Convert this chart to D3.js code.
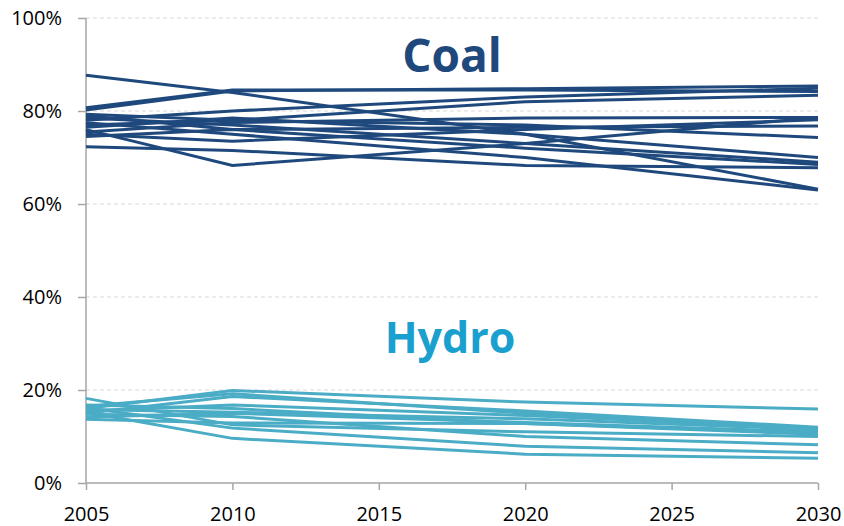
<!DOCTYPE html>
<html>
<head>
<meta charset="utf-8">
<script src="https://cdn.jsdelivr.net/npm/d3@7"></script>
<style>
  body { margin: 0; background: #fff; }
  svg { display: block; font-family: "Open Sans", sans-serif; }
  .grid line { stroke: #d9d9d9; stroke-dasharray: 4 3; }
  .axis path, .axis line { stroke: #a6a6a6; stroke-width: 1.5; }
  .axis text { fill: #000; font-size: 20px; font-family: "Open Sans", sans-serif; }
</style>
</head>
<body>
<div id="chart"></div>
<script>
(function(){

// years where each line has a point
const years = [2005, 2010, 2020, 2030];
const xTicks = [2005, 2010, 2015, 2020, 2025, 2030];
const yTicks = [0, 0.2, 0.4, 0.6, 0.8, 1.0];

// share of coal, one array per line
const coal = [
  [0.877, 0.840, 0.750, 0.632],
  [0.807, 0.845, 0.845, 0.842],
  [0.802, 0.843, 0.848, 0.854],
  [0.723, 0.715, 0.683, 0.678],
  [0.760, 0.683, 0.730, 0.786],
  [0.780, 0.800, 0.830, 0.849],
  [0.770, 0.780, 0.820, 0.834],
  [0.790, 0.760, 0.765, 0.768],
  [0.750, 0.735, 0.760, 0.781],
  [0.785, 0.770, 0.730, 0.690],
  [0.765, 0.785, 0.750, 0.700],
  [0.793, 0.780, 0.770, 0.743],
  [0.745, 0.760, 0.720, 0.685],
  [0.775, 0.750, 0.700, 0.630],
  [0.755, 0.775, 0.785, 0.786]
];

// share of hydro, one array per line
const hydro = [
  [0.160, 0.199, 0.174, 0.159],
  [0.182, 0.125, 0.110, 0.100],
  [0.150, 0.186, 0.155, 0.120],
  [0.165, 0.192, 0.150, 0.115],
  [0.155, 0.168, 0.145, 0.118],
  [0.142, 0.150, 0.130, 0.110],
  [0.137, 0.129, 0.128, 0.105],
  [0.162, 0.118, 0.079, 0.065],
  [0.152, 0.096, 0.062, 0.053],
  [0.148, 0.143, 0.100, 0.082],
  [0.168, 0.160, 0.128, 0.108],
  [0.158, 0.152, 0.138, 0.115]
];

const width = 844,
      height = 526,
      margin = ({ top: 18, right: 26, bottom: 43, left: 86 });

const svg = d3.select("#chart")
  .append("svg")
  .attr("width", width)
  .attr("height", height);

const x = d3.scaleLinear()
  .domain([2005, 2030])
  .range([margin.left, width - margin.right]);

const y = d3.scaleLinear()
  .domain([0, 1])
  .range([height - margin.bottom, margin.top]);

svg.append("g")
  .attr("class", "grid")
  .selectAll("line")
  .data(yTicks.slice(1))
  .join("line")
  .attr("x1", margin.left)
  .attr("x2", width - margin.right)
  .attr("y1", d => y(d))
  .attr("y2", d => y(d));

svg.append("g")
  .attr("class", "axis")
  .attr("transform", `translate(${margin.left},0)`)
  .call(d3.axisLeft(y).tickValues(yTicks).tickFormat(d3.format(".0%")).tickSize(8).tickPadding(16))
  .call(g => g.select(".domain").attr("d", `M0,${y(0)}V${y(1)}`));

svg.append("g")
  .attr("class", "axis")
  .attr("transform", `translate(0,${height - margin.bottom})`)
  .call(d3.axisBottom(x).tickValues(xTicks).tickFormat(d3.format("d")).tickSize(7).tickPadding(17))
  .call(g => g.select(".domain").attr("d", `M${x(2005)},0H${x(2030)}`));

const line = d3.line()
  .x((d, i) => x(years[i]))
  .y(d => y(d));

svg.append("g")
  .selectAll("path")
  .data(hydro)
  .join("path")
  .attr("fill", "none")
  .attr("stroke", "#4bacc6")
  .attr("stroke-width", 3)
  .attr("d", line);

svg.append("g")
  .selectAll("path")
  .data(coal)
  .join("path")
  .attr("fill", "none")
  .attr("stroke", "#1f497d")
  .attr("stroke-width", 3)
  .attr("d", line);

svg.append("text")
  .attr("x", 452)
  .attr("y", 72)
  .attr("text-anchor", "middle")
  .attr("font-size", 46)
  .attr("font-weight", "bold")
  .attr("fill", "#1f497d")
  .text("Coal");

svg.append("text")
  .attr("x", 450)
  .attr("y", 353)
  .attr("text-anchor", "middle")
  .attr("font-size", 43)
  .attr("font-weight", "bold")
  .attr("fill", "#1aa0cf")
  .text("Hydro");

})();
</script>
</body>
</html>
